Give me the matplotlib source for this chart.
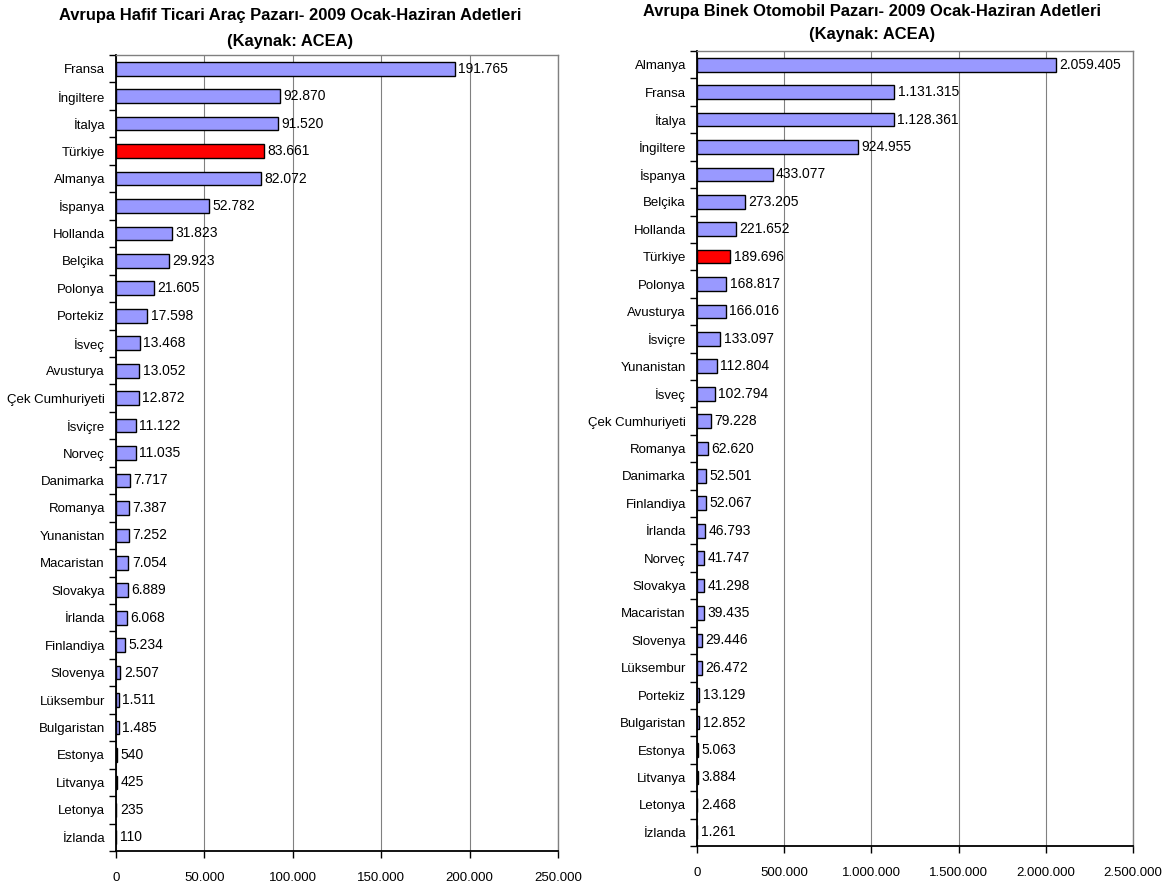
import matplotlib.pyplot as plt
import numpy as np

plt.rcParams['font.family'] = ['Liberation Sans', 'DejaVu Sans']

# Hafif ticari arac pazari
lcv_ulke = ["Fransa", "İngiltere", "İtalya", "Türkiye", "Almanya", "İspanya", "Hollanda",
            "Belçika", "Polonya", "Portekiz", "İsveç", "Avusturya", "Çek Cumhuriyeti",
            "İsviçre", "Norveç", "Danimarka", "Romanya", "Yunanistan", "Macaristan",
            "Slovakya", "İrlanda", "Finlandiya", "Slovenya", "Lüksembur", "Bulgaristan",
            "Estonya", "Litvanya", "Letonya", "İzlanda"]
lcv_adet = [191765, 92870, 91520, 83661, 82072, 52782, 31823, 29923, 21605, 17598,
            13468, 13052, 12872, 11122, 11035, 7717, 7387, 7252, 7054, 6889, 6068,
            5234, 2507, 1511, 1485, 540, 425, 235, 110]

# Binek otomobil pazari
pc_ulke = ["Almanya", "Fransa", "İtalya", "İngiltere", "İspanya", "Belçika", "Hollanda",
           "Türkiye", "Polonya", "Avusturya", "İsviçre", "Yunanistan", "İsveç",
           "Çek Cumhuriyeti", "Romanya", "Danimarka", "Finlandiya", "İrlanda", "Norveç",
           "Slovakya", "Macaristan", "Slovenya", "Lüksembur", "Portekiz", "Bulgaristan",
           "Estonya", "Litvanya", "Letonya", "İzlanda"]
pc_adet = [2059405, 1131315, 1128361, 924955, 433077, 273205, 221652, 189696, 168817,
           166016, 133097, 112804, 102794, 79228, 62620, 52501, 52067, 46793, 41747,
           41298, 39435, 29446, 26472, 13129, 12852, 5063, 3884, 2468, 1261]

lcv_ticks = [0, 50000, 100000, 150000, 200000, 250000]
pc_ticks = [0, 500000, 1000000, 1500000, 2000000, 2500000]


def nokta(v):
    return f"{v:,}".replace(",", ".")


def cubuk_ciz(ax, ulkeler, adetler, ticks, baslik, baslik_x, baslik_y):
    n = len(ulkeler)
    y = np.arange(n)
    renkler = ["#FF0000" if u == "Türkiye" else "#9999FF" for u in ulkeler]
    ax.barh(y, adetler, height=0.5, color=renkler, edgecolor="black", linewidth=1.0, zorder=3)
    for yi, v in zip(y, adetler):
        ax.annotate(nokta(v), (v, yi), xytext=(2.5, 0), textcoords="offset points",
                    va="center", ha="left", fontsize=10)
    ax.set_ylim(n - 0.5, -0.5)
    ax.set_xlim(ticks[0], ticks[-1])
    ax.set_yticks(y)
    ax.set_yticklabels(ulkeler, fontsize=9.5)
    ax.set_yticks(np.arange(-0.5, n, 1.0), minor=True)
    ax.tick_params(axis="y", which="major", length=0, pad=8)
    ax.tick_params(axis="y", which="minor", length=5, width=1.0, direction="out")
    ax.set_xticks(ticks)
    ax.set_xticklabels([nokta(t) for t in ticks], fontsize=9.5)
    ax.tick_params(axis="x", length=5, width=1.0, direction="out", pad=10)
    ax.grid(axis="x", color="#808080", linewidth=0.8, zorder=0)
    for s in ["left", "bottom"]:
        ax.spines[s].set_linewidth(1.3)
        ax.spines[s].set_color("black")
    for s in ["top", "right"]:
        ax.spines[s].set_linewidth(1.0)
        ax.spines[s].set_color("#808080")
    satir1, satir2 = baslik
    ax.figure.text(baslik_x, baslik_y[0], satir1, ha="center", va="center",
                   fontsize=11.9, fontweight="bold")
    ax.figure.text(baslik_x, baslik_y[1], satir2, ha="center", va="center",
                   fontsize=11.9, fontweight="bold")


fig = plt.figure(figsize=(11.66, 8.83), dpi=100)
ax1 = fig.add_axes([0.0995, 0.0362, 0.379, 0.9015])
ax2 = fig.add_axes([0.5978, 0.0419, 0.374, 0.9003])

cubuk_ciz(ax1, lcv_ulke, lcv_adet, lcv_ticks,
          ("Avrupa Hafif Ticari Araç Pazarı- 2009 Ocak-Haziran Adetleri", "(Kaynak: ACEA)"),
          0.2487, (0.983, 0.953))
cubuk_ciz(ax2, pc_ulke, pc_adet, pc_ticks,
          ("Avrupa Binek Otomobil Pazarı- 2009 Ocak-Haziran Adetleri", "(Kaynak: ACEA)"),
          0.748, (0.987, 0.961))

fig.savefig("out.png", dpi=100)
